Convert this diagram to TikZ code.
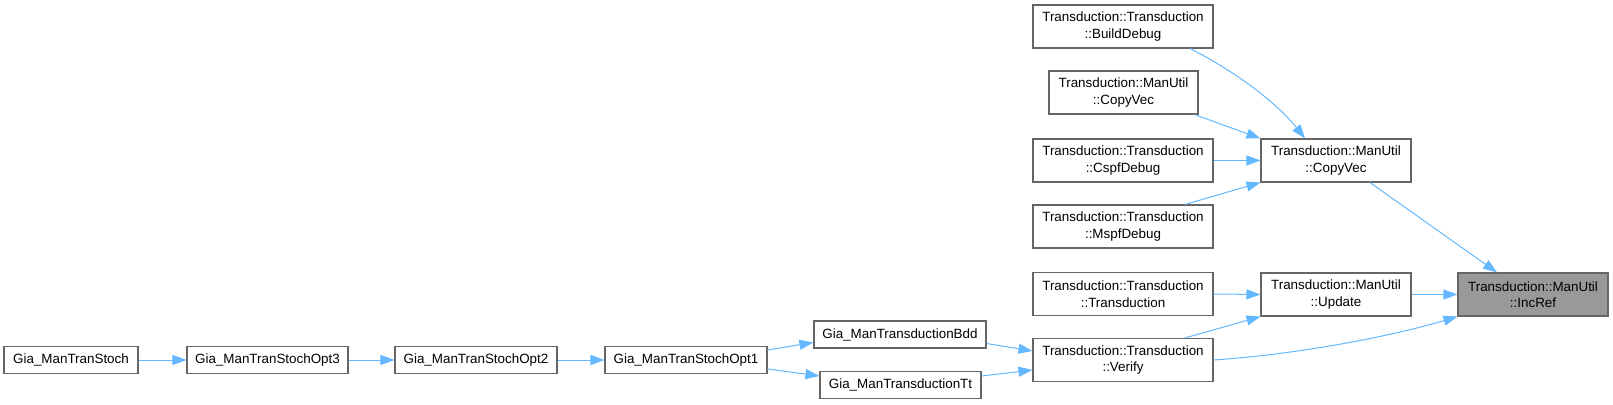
\documentclass[tikz,border=0pt]{standalone}
\usepackage{fontspec}
\setmainfont{Liberation Sans}
\usetikzlibrary{arrows.meta}
\definecolor{edgeblue}{HTML}{63B8FF}
\definecolor{boxgray}{HTML}{666666}
\definecolor{hlgray}{HTML}{999999}
\begin{document}
\begin{tikzpicture}[x=1pt,y=-1pt,
    font=\fontsize{13.4}{16.5}\selectfont,
    fn/.style={draw=boxgray, fill=white, line width=1.1pt, align=center,
               inner sep=2pt, minimum height=27pt},
    twoline/.style={fn, minimum height=43pt},
    cur/.style={twoline, fill=hlgray},
    call/.style={->, draw=edgeblue, line width=1pt},
    >={Triangle[length=14pt,width=10pt]}]
    \useasboundingbox (0,0) rectangle (1613,404);

    % Вызывающие CopyVec
    \node[twoline, minimum width=180pt] (bd)  at (1123,26.5)  {Transduction::Transduction\\::BuildDebug};
    \node[twoline, minimum width=149pt] (cvl) at (1123.5,92.5) {Transduction::ManUtil\\::CopyVec};
    \node[twoline, minimum width=180pt] (csp) at (1123,160.5) {Transduction::Transduction\\::CspfDebug};
    \node[twoline, minimum width=180pt] (msp) at (1123,226.5) {Transduction::Transduction\\::MspfDebug};

    % Вызывающие Update
    \node[twoline, minimum width=180pt] (tc) at (1123,294) {Transduction::Transduction\\::Transduction};
    \node[twoline, minimum width=180pt] (vf) at (1123,360) {Transduction::Transduction\\::Verify};

    % Средний столбец и IncRef
    \node[twoline, minimum width=150pt] (cvm) at (1336,160.5) {Transduction::ManUtil\\::CopyVec};
    \node[twoline, minimum width=150pt] (upd) at (1336,294.5) {Transduction::ManUtil\\::Update};
    \node[cur, minimum width=150pt] (irf) at (1533,294.5) {Transduction::ManUtil\\::IncRef};

    % Цепочка Gia
    \node[fn, minimum width=172pt] (bdd) at (900,334.5) {Gia\_ManTransductionBdd};
    \node[fn, minimum width=161pt] (tt)  at (900.5,385) {Gia\_ManTransductionTt};
    \node[fn, minimum width=162pt] (o1)  at (686,360)   {Gia\_ManTranStochOpt1};
    \node[fn, minimum width=162pt] (o2)  at (476,360)   {Gia\_ManTranStochOpt2};
    \node[fn, minimum width=161pt] (o3)  at (267.5,360) {Gia\_ManTranStochOpt3};
    \node[fn, minimum width=134pt] (st)  at (71,360)    {Gia\_ManTranStoch};

    % Рёбра
    \draw[call] ([xshift=67pt]bd.south) .. controls +(40,20) and +(-30,-38) .. ([xshift=-31pt]cvm.north);
    \draw[call] ([xshift=71pt]cvl.south) -- (cvm.north west);
    \draw[call] (csp) -- (cvm);
    \draw[call] ([xshift=62pt]msp.north) -- (cvm.south west);
    \draw[call] ([xshift=34pt]cvm.south) -- ([xshift=-36pt]irf.north);

    \draw[call] (tc.east) -- (upd.west);
    \draw[call] (upd) -- (irf);
    \draw[call] ([xshift=62pt]vf.north) -- (upd.south west);
    \draw[call] (vf.east) .. controls +(90,-6) and +(-60,18) .. (irf.south west);

    \draw[call] ([yshift=-9pt]bdd.east) -- ([yshift=9pt]vf.west);
    \draw[call] ([yshift=9pt]tt.east) -- ([yshift=-10pt]vf.west);
    \draw[call] ([yshift=10pt]o1.east) -- ([yshift=-8pt]bdd.west);
    \draw[call] ([yshift=-9pt]o1.east) -- ([yshift=9pt]tt.west);
    \draw[call] (o2) -- (o1);
    \draw[call] (o3) -- (o2);
    \draw[call] (st) -- (o3);
\end{tikzpicture}
\end{document}
